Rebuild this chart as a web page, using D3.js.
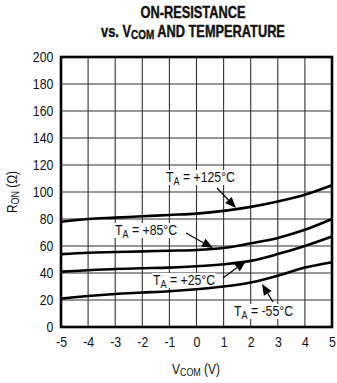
<!DOCTYPE html>
<html><head><meta charset="utf-8">
<script src="https://cdn.jsdelivr.net/npm/d3@7"></script>
<style>
body{margin:0;background:#fff;}
text{font-family:"Liberation Sans",Arial,sans-serif;fill:#111;}
</style></head>
<body><svg id="c" width="337" height="383"></svg>
<script>
const xTicks = [-5,-4,-3,-2,-1,0,1,2,3,4,5];
const yTicks = [0,20,40,60,80,100,120,140,160,180,200];
const vcom = [-5,-4,-3,-2,-1,0,1,2,3,4,5];
const r125 = [78,80,81,82,83,84,86,89,93,98,105];
const r85  = [54,55,55.5,56,56.5,57,58.5,62,66,72,80];
const r25  = [41,42,43,43.5,44,45,46.5,49,54,60,67];
const rm55 = [21,23,24.5,25.5,26.5,28,30,33,38,44,48];
const seriesNames = ["+125°C","+85°C","+25°C","-55°C"];

const svg = d3.select("#c");
const L=61,R=332,T=57,B=327;
const x = d3.scaleLinear().domain([-5,5]).range([L,R]);
const y = d3.scaleLinear().domain([0,200]).range([B,T]);

function condense(t,f,ax,ay){
 t.attr("transform",`translate(${ax},${ay}) scale(${f},1) translate(${-ax},${-ay})`);
}

// grid
const g = svg.append("g");
g.selectAll(".vx").data(xTicks).join("line")
 .attr("x1",d=>x(d)).attr("x2",d=>x(d)).attr("y1",T).attr("y2",B)
 .attr("stroke","#333").attr("stroke-width",1.1);
g.selectAll(".hy").data(yTicks).join("line")
 .attr("y1",d=>y(d)).attr("y2",d=>y(d)).attr("x1",L).attr("x2",R)
 .attr("stroke","#333").attr("stroke-width",1.1);

const bgLayer = svg.append("g");
const curveLayer = svg.append("g");
const labelLayer = svg.append("g");

// axes labels via d3 axes
const xAxis = svg.append("g").attr("transform",`translate(0,${B})`)
 .call(d3.axisBottom(x).tickValues(xTicks).tickSize(0).tickPadding(10).tickFormat(d=>String(d)));
const yAxis = svg.append("g").attr("transform",`translate(${L},0)`)
 .call(d3.axisLeft(y).tickValues(yTicks).tickSize(0).tickPadding(9).tickFormat(d=>String(d)));
[xAxis,yAxis].forEach(a=>{a.select(".domain").remove();
 a.selectAll("text").attr("font-size",14.5).attr("font-family",'"Liberation Sans",Arial,sans-serif').attr("fill","#111");});
xAxis.selectAll("text").attr("transform","scale(0.85,1)");
yAxis.selectAll("text").attr("transform","scale(0.85,1)");

// curves
const line = d3.line().x((d,i)=>x(vcom[i])).y(d=>y(d)).curve(d3.curveMonotoneX);
[r125,r85,r25,rm55].forEach(s=>{
 curveLayer.append("path").attr("d",line(s)).attr("fill","none").attr("stroke","#000").attr("stroke-width",2.6);
});

// border
svg.append("rect").attr("x",L).attr("y",T).attr("width",R-L).attr("height",B-T)
 .attr("fill","none").attr("stroke","#000").attr("stroke-width",2.6);

// labels
function label(tx,ty,name,a){
 const t = labelLayer.append("text").attr("x",tx).attr("y",ty).attr("font-size",15);
 t.append("tspan").text("T");
 t.append("tspan").attr("font-size",11).attr("dy",3).text("A");
 t.append("tspan").attr("dy",-3).text(" = "+name);
 condense(t,0.82,tx,ty);
 const bb = t.node().getBBox();
 bgLayer.append("rect").attr("fill","#fff").attr("x",tx-1).attr("y",ty-12).attr("width",bb.width*0.82+2).attr("height",15);
 const [x1,y1,x2,y2]=a;
 const ang=Math.atan2(y2-y1,x2-x1), hl=11, hw=4.5;
 const bx=x2-hl*Math.cos(ang), by=y2-hl*Math.sin(ang);
 labelLayer.append("line").attr("x1",x1).attr("y1",y1).attr("x2",bx).attr("y2",by).attr("stroke","#000").attr("stroke-width",1.2);
 labelLayer.append("path").attr("d",`M${x2},${y2}L${bx+hw*Math.sin(ang)},${by-hw*Math.cos(ang)}L${bx-hw*Math.sin(ang)},${by+hw*Math.cos(ang)}Z`).attr("fill","#000");
}
label(166,182,seriesNames[0],[217,188,236,208]);
label(115,235,seriesNames[1],[186,233,213,248]);
label(153,285,seriesNames[2],[223,278,246,261]);
label(234,316,seriesNames[3],[273,302,262,284]);

// title
const title = svg.append("text").attr("x",193).attr("y",18).attr("text-anchor","middle").attr("font-size",16).attr("font-weight","bold").attr("stroke","#111").attr("stroke-width",0.4).text("ON-RESISTANCE");
condense(title,0.8,193,18);
const t2 = svg.append("text").attr("x",193).attr("y",37).attr("text-anchor","middle").attr("font-size",16).attr("font-weight","bold").attr("stroke","#111").attr("stroke-width",0.4);
t2.append("tspan").text("vs. V");
t2.append("tspan").attr("font-size",12.5).attr("dy",2).text("COM");
t2.append("tspan").attr("dy",-2).text(" AND TEMPERATURE");
condense(t2,0.8,193,37);

// axis titles
const xt = svg.append("text").attr("x",196).attr("y",374).attr("text-anchor","middle").attr("font-size",14);
xt.append("tspan").text("V");
xt.append("tspan").attr("font-size",10.5).attr("dy",2).text("COM");
xt.append("tspan").attr("dy",-2).text(" (V)");
condense(xt,0.85,196,374);
const yt = svg.append("text").attr("transform","translate(17,192) rotate(-90) scale(0.85,1)").attr("text-anchor","middle").attr("font-size",14);
yt.append("tspan").text("R");
yt.append("tspan").attr("font-size",10.5).attr("dy",2).text("ON");
yt.append("tspan").attr("dy",-2).text(" (Ω)");
</script></body></html>
